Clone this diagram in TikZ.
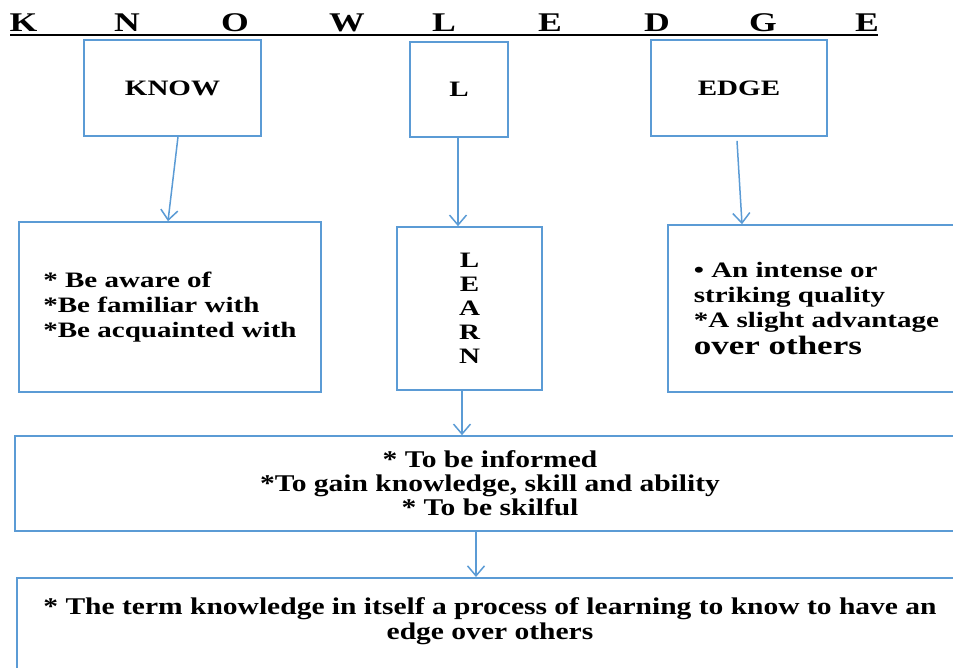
\documentclass[tikz,border=0pt]{standalone}
\usepackage{fontspec}
\setmainfont{Liberation Serif}[FakeStretch=1.32]
\newfontfamily\narrowserif{Liberation Serif}[FakeStretch=1.23]
\usetikzlibrary{arrows.meta,calc}
\definecolor{boxblue}{HTML}{5B9BD5}
\begin{document}
\begin{tikzpicture}[x=1pt,y=-1pt,
  box/.style={draw=boxblue,line width=1.6pt,inner sep=0pt,font=\bfseries\fontsize{22}{25}\selectfont},
  lowtext/.style={inner sep=0pt,align=center,font=\narrowserif\bfseries\fontsize{24}{24}\selectfont},
  arr/.style={draw=boxblue,line width=1.5pt,-{Straight Barb[length=10pt,width=17pt,line width=1.5pt]}},
  head/.style={anchor=base,inner sep=0pt,font=\bfseries\fontsize{27}{27}\selectfont}]
\useasboundingbox (0,0) rectangle (953,668);
\clip (0,0) rectangle (953,668);
% heading
\node[head] (h1) at (23.5,32) {K};
\node[head] (h2) at (127,32) {N};
\node[head] (h3) at (235,32) {O};
\node[head] (h4) at (347,32) {W};
\node[head] (h5) at (444,32) {L};
\node[head] (h6) at (550,32) {E};
\node[head] (h7) at (657,32) {D};
\node[head] (h8) at (763,32) {G};
\node[head] (h9) at (867,32) {E};
\draw[line width=2pt] (10,35.5) -- (878,35.5);
% top boxes
\node[box,minimum width=177pt,minimum height=96pt] (know) at (172.5,88) {KNOW};
\node[box,minimum width=98pt,minimum height=95pt] (lbox) at (459,89.5) {L};
\node[box,minimum width=176pt,minimum height=96pt] (edge) at (739,88) {EDGE};
% middle boxes
\node[box,minimum width=302pt,minimum height=170pt,align=left] (aware) at (170,307)
  {* Be aware of\\*Be familiar with\\*Be acquainted with};
\node[box,minimum width=145pt,minimum height=163pt,align=center,font=\bfseries\fontsize{22}{24}\selectfont] (learn) at (469.5,308.5)
  {L\\E\\A\\R\\N};
\node[box,minimum width=297pt,minimum height=167pt,align=left] (adv) at (816.5,308.5)
  {• An intense or\\striking quality\\*A slight advantage\\[2pt]{\fontsize{26.5}{28}\selectfont over others}};
% lower boxes
\node[box,minimum width=950pt,minimum height=95pt,lowtext,inner sep=0pt] (inform) at (490,483.5)
  {* To be informed\\*To gain knowledge, skill and ability\\* To be skilful};
\node[box,minimum width=948pt,minimum height=120pt,anchor=north] (term) at (491,577) {};
\node[lowtext,font=\narrowserif\bfseries\fontsize{24}{25}\selectfont] (termtxt) at (490,621.5)
  {* The term knowledge in itself a process of learning to know to have an\\edge over others};
% connectors
\draw[arr] ([xshift=5.5pt]know.south) -- ([xshift=-2pt]aware.north);
\draw[arr] ([xshift=-1pt]lbox.south) -- ([xshift=-11.5pt]learn.north);
\draw[arr] ([xshift=-2pt,yshift=-4pt]edge.south) -- ([xshift=-74.5pt]adv.north);
\draw[arr] ([xshift=-7.5pt]learn.south) -- ([xshift=-28pt]inform.north);
\draw[arr] ([xshift=-14pt]inform.south) -- ([xshift=-15pt]term.north);
\end{tikzpicture}
\end{document}
